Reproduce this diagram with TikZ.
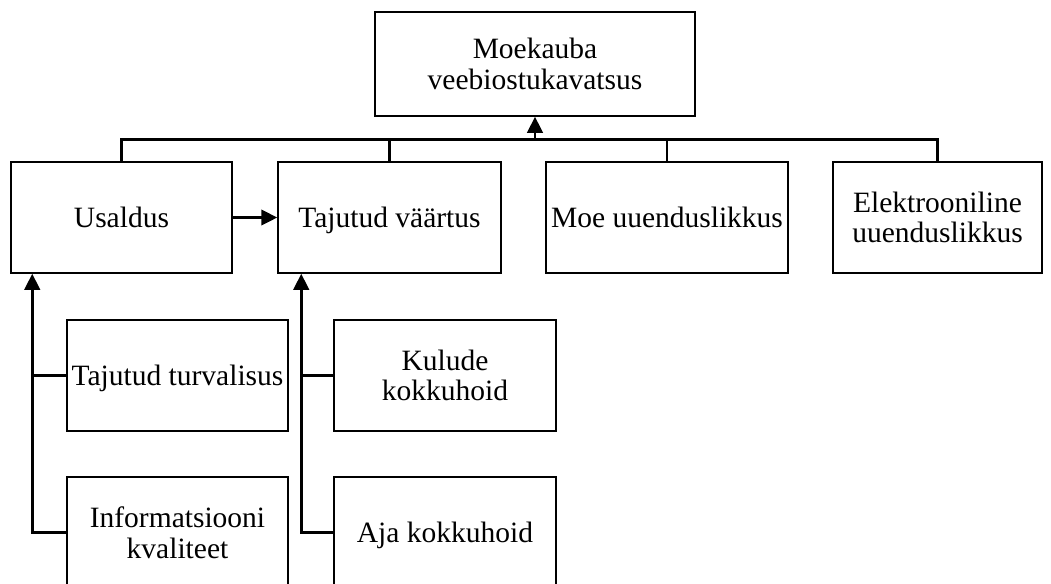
\documentclass[tikz,border=0pt]{standalone}
\usepackage{fontspec}
\setmainfont{Liberation Serif}
\usetikzlibrary{arrows.meta}

\tikzset{
    blk/.style={draw, line width=0.6pt, inner sep=0pt, align=center, font=\fontsize{11.8}{12.2}\selectfont},
    rida/.style={blk, text depth=0pt},
    conn/.style={line width=1pt},
    arr/.style={line width=1pt, -{Triangle[length=6.4pt, width=6.2pt]}}
}

\begin{document}
\begin{tikzpicture}[x=0.4pt, y=-0.4pt]
        \useasboundingbox (0, 0) rectangle (1051, 583);
        % upper level
        \node[blk, minimum width=320*0.4pt, minimum height=104*0.4pt] (siht) at (535, 64) {Moekauba\\veebiostukavatsus};
        \node[rida, minimum width=221*0.4pt, minimum height=111*0.4pt] (usaldus) at (121.5, 217.5) {Usaldus};
        \node[rida, minimum width=223*0.4pt, minimum height=111*0.4pt] (vaartus) at (389.5, 217.5) {Tajutud väärtus};
        \node[rida, minimum width=242*0.4pt, minimum height=111*0.4pt] (moe) at (667, 217.5) {Moe uuenduslikkus};
        \node[blk, minimum width=209*0.4pt, minimum height=111*0.4pt] (elektr) at (937.5, 217.5) {Elektrooniline\\uuenduslikkus};
        % lower level
        \node[rida, minimum width=221*0.4pt, minimum height=111*0.4pt] (turv) at (177.5, 375.5) {Tajutud turvalisus};
        \node[blk, minimum width=221*0.4pt, minimum height=111*0.4pt] (info) at (177.5, 532.5) {Informatsiooni\\kvaliteet};
        \node[blk, minimum width=222*0.4pt, minimum height=111*0.4pt] (kulud) at (445, 375.5) {Kulude\\kokkuhoid};
        \node[rida, minimum width=222*0.4pt, minimum height=111*0.4pt] (aja) at (445, 532.5) {Aja kokkuhoid};

        \coordinate (siin) at (535, 139.5);
        \coordinate (uin) at ([xshift=22*0.4pt]usaldus.south west);
        \coordinate (vin) at ([xshift=24*0.4pt]vaartus.south west);

        \draw[conn] (usaldus.north) |- (elektr.north |- siin) -- (elektr.north);
        \draw[conn] (vaartus.north) -- (vaartus.north |- siin);
        \draw[conn] (moe.north) -- (moe.north |- siin);
        \draw[arr] (siin) -- (siht.south);
        \draw[arr] (usaldus.east) -- (vaartus.west);
        \draw[arr] (info.west) -| (uin);
        \draw[conn] (turv.west) -- (turv.west -| uin);
        \draw[arr] (aja.west) -| (vin);
        \draw[conn] (kulud.west) -- (kulud.west -| vin);
    \end{tikzpicture}
\end{document}
